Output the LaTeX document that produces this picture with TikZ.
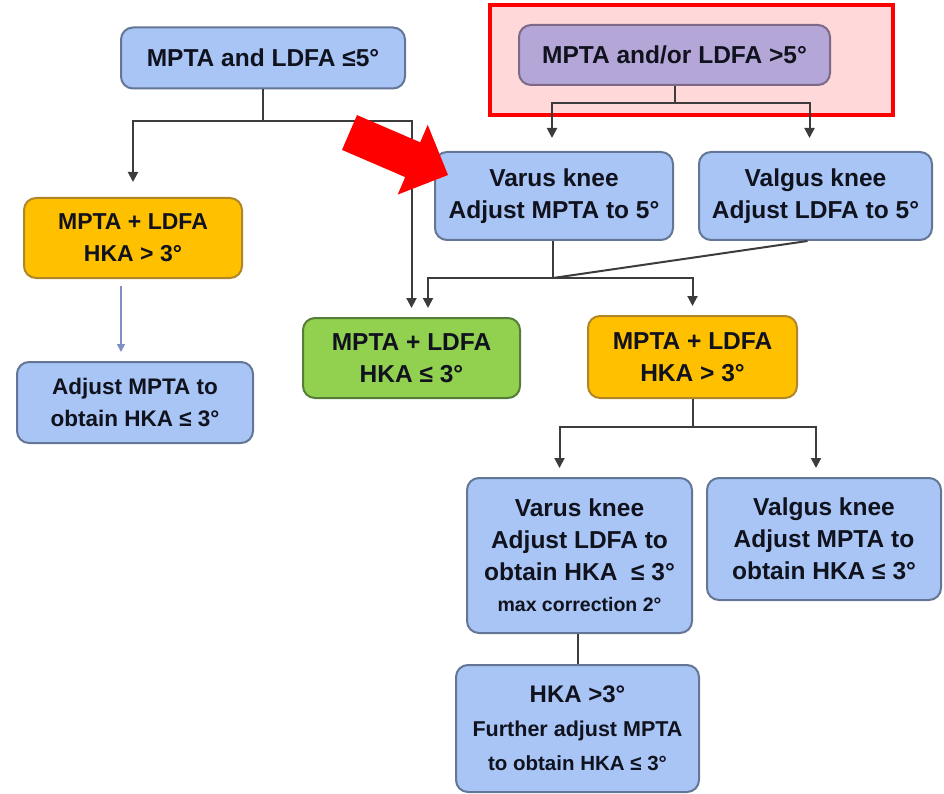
\documentclass[tikz,border=0pt]{standalone}
\usepackage{fontspec}
\setmainfont{Liberation Sans}
\usetikzlibrary{arrows.meta}
\definecolor{boxblue}{RGB}{169,197,245}
\definecolor{blueedge}{RGB}{100,118,150}
\definecolor{boxpurple}{RGB}{180,166,214}
\definecolor{purpleedge}{RGB}{125,105,135}
\definecolor{boxorange}{RGB}{255,192,0}
\definecolor{orangeedge}{RGB}{175,135,40}
\definecolor{boxgreen}{RGB}{146,208,80}
\definecolor{greenedge}{RGB}{85,125,55}
\definecolor{pinkfill}{RGB}{255,217,217}
\definecolor{txt}{RGB}{16,18,30}
\definecolor{conn}{RGB}{60,60,60}
\definecolor{thinblue}{RGB}{125,145,195}
\begin{document}
\begin{tikzpicture}[x=1pt,y=-1pt,
  base/.style={rounded corners=12pt, line width=2pt, align=center, inner sep=0pt,
    font=\bfseries\fontsize{24.5}{32}\selectfont, text=txt},
  bluebox/.style={base, fill=boxblue, draw=blueedge},
  purplebox/.style={base, fill=boxpurple, draw=purpleedge},
  orangebox/.style={base, fill=boxorange, draw=orangeedge},
  greenbox/.style={base, fill=boxgreen, draw=greenedge},
  line/.style={draw=conn, line width=2pt},
  arr/.style={line, -{Triangle[width=10pt,length=10pt]}},
  thinarr/.style={draw=thinblue, line width=1.5pt, -{Triangle[width=8pt,length=8pt]}}
]
\useasboundingbox (0,0) rectangle (944,794);

% highlighted region
\node[draw=red, line width=4.5pt, fill=pinkfill, minimum width=403pt, minimum height=110pt, inner sep=0pt] (hl) at (691.5,60) {};

% nodes
\node[bluebox, minimum width=284pt, minimum height=61pt] (a) at (263,58) {MPTA and LDFA ≤5°};
\node[purplebox, minimum width=311pt, minimum height=60pt] (b) at (674.5,55) {MPTA and/or LDFA >5°};
\node[bluebox, minimum width=238pt, minimum height=88pt] (vt) at (554,196) {Varus knee\\Adjust MPTA to 5°};
\node[bluebox, minimum width=233pt, minimum height=88pt] (vg) at (815.5,196) {Valgus knee\\Adjust LDFA to 5°};
\node[orangebox, minimum width=218pt, minimum height=80pt, font=\bfseries\fontsize{23}{32}\selectfont] (o1) at (133,238) {MPTA + LDFA\\HKA > 3°};
\node[bluebox, minimum width=236pt, minimum height=81pt, font=\bfseries\fontsize{22.5}{32}\selectfont] (ad) at (135,402.5) {Adjust MPTA to\\obtain HKA ≤ 3°};
\node[greenbox, minimum width=217pt, minimum height=80pt] (g) at (411.5,358) {MPTA + LDFA\\HKA ≤ 3°};
\node[orangebox, minimum width=209pt, minimum height=82pt] (o2) at (692.5,357) {MPTA + LDFA\\HKA > 3°};
\node[bluebox, minimum width=225pt, minimum height=155pt] (vb) at (579.5,555.5) {Varus knee\\Adjust LDFA to\\obtain HKA \ ≤ 3°\\[-1pt]{\fontsize{19.5}{22}\selectfont max correction 2°}};
\node[bluebox, minimum width=234pt, minimum height=122pt] (vgb) at (824,539) {Valgus knee\\Adjust MPTA to\\obtain HKA ≤ 3°};
\node[bluebox, minimum width=243pt, minimum height=127pt, font=\bfseries\fontsize{21.5}{34}\selectfont] (h) at (577.5,728.5) {{\fontsize{24}{34}\selectfont HKA >3°}\\Further adjust MPTA\\{\fontsize{20.5}{34}\selectfont to obtain HKA ≤ 3°}};

% connectors from A
\coordinate (aj) at (263,121);
\draw[line] (a.south) -- (aj);
\draw[arr, shorten >=15pt] (aj) -| (o1.north);
\draw[arr, shorten >=9pt] (aj) -| (g.north);

% connectors from B
\coordinate (bj) at (674.5,103);
\draw[line] (b.south) -- (bj);
\draw[arr, shorten >=13pt] (bj) -| ([xshift=-2pt]vt.north);
\draw[arr, shorten >=13pt] (bj) -| ([xshift=-6pt]vg.north);

% from varus / valgus top
\coordinate (vj) at (553,278);
\draw[line] ([xshift=-1pt]vt.south) -- (vj);
\draw[line] ([xshift=-8pt]vg.south) -- (vj);
\draw[arr, shorten >=9pt] (vj) -| ([xshift=16.5pt]g.north);
\draw[arr, shorten >=9pt] (vj) -| (o2.north);

% left orange to adjust
\draw[thinarr, shorten <=7pt, shorten >=9pt] ([xshift=-12pt]o1.south) -- ([xshift=-14pt]ad.north);

% from right orange
\coordinate (oj) at (692.5,427);
\draw[line] (o2.south) -- (oj);
\draw[arr, shorten >=9pt] (oj) -| ([xshift=-20pt]vb.north);
\draw[arr, shorten >=9pt] (oj) -| ([xshift=-8pt]vgb.north);

% varus bottom to HKA
\draw[line] ([xshift=-2pt]vb.south) -- ([xshift=-2pt]vb.south |- h.north);

% red pointer arrow
\fill[red] (357,115.1) -- (420.2,142.3) -- (427.7,124.8) -- (448,175) -- (397.7,194.6) -- (405.2,177.1) -- (342,149.9) -- cycle;
\end{tikzpicture}
\end{document}
